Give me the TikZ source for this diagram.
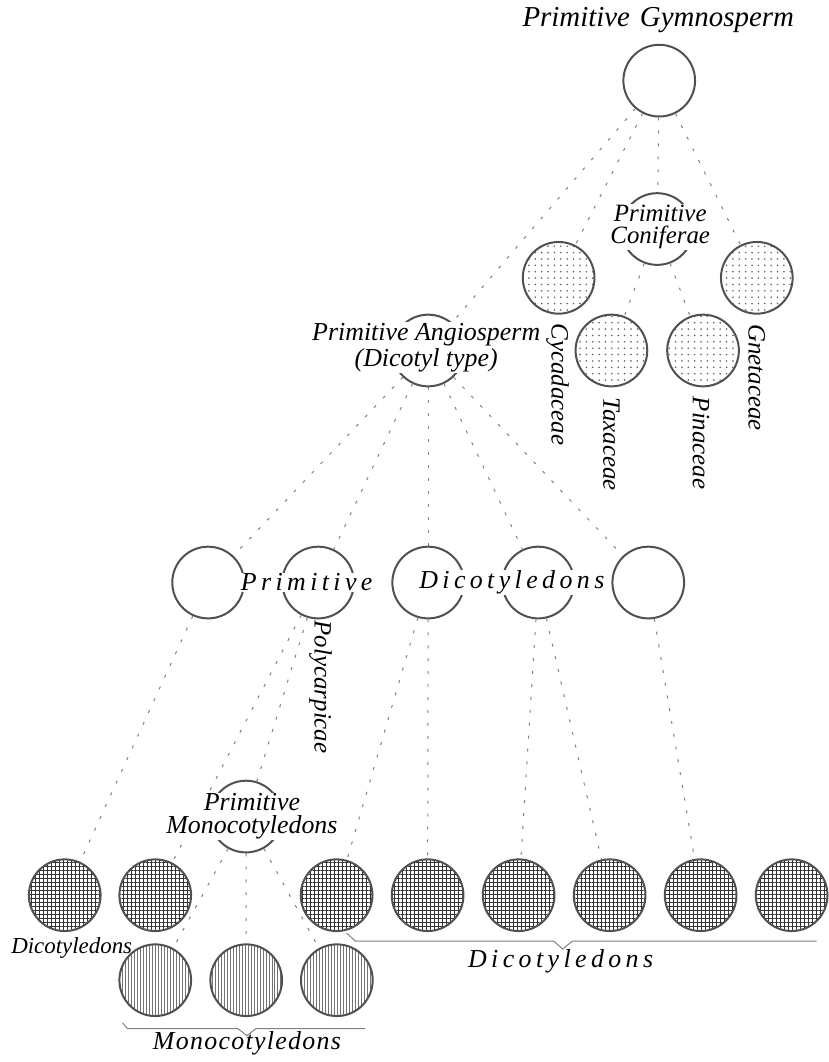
\documentclass[tikz,border=0pt]{standalone}
\usepackage{fontspec}
\setmainfont{Liberation Serif}
\newfontfamily\spacedfont[LetterSpace=17]{Liberation Serif}
\newfontfamily\looseserif[LetterSpace=5]{Liberation Serif}
\usepackage{tikz}
\usetikzlibrary{positioning,patterns.meta}
\definecolor{inkgray}{RGB}{80,80,80}
\definecolor{stipplegray}{RGB}{100,100,100}

\begin{document}
\begin{tikzpicture}[
    x=0.5pt, y=-0.5pt,
    taxon/.style={circle, draw=inkgray, line width=1pt, minimum size=36pt, inner sep=0pt},
    gymtaxon/.style={taxon, pattern={Dots[distance=3.2pt,radius=0.45pt]}, pattern color=stipplegray},
    dicottaxon/.style={taxon, pattern={Hatch[distance=2pt,line width=0.5pt]}, pattern color=black!80},
    monotaxon/.style={taxon, pattern={Lines[angle=90,distance=1.5pt,line width=0.35pt]}, pattern color=black!55},
    descent/.style={draw=black!50, line width=0.5pt, dash pattern=on 1.5pt off 5pt},
    bracket/.style={draw=black!50, line width=0.5pt},
    grouplabel/.style={font=\fontsize{13}{11.5}\selectfont\itshape, align=center, fill=white, inner sep=0.5pt},
    sidelabel/.style={font=\fontsize{12.5}{14}\selectfont\itshape, rotate=-90, inner sep=0pt},
    spacedlabel/.style={font=\fontsize{13}{14}\spacedfont\itshape, fill=white, inner sep=0.5pt}
]
    \fill[white] (0,0) rectangle (827,1062);

    \node[taxon] (gym) at (662,81) {};
    \node[taxon] (conif) at (660,230) {};
    \node[gymtaxon] (cycad) at (561,279) {};
    \node[gymtaxon] (gnet) at (760,279) {};
    \node[gymtaxon] (taxa) at (614,352) {};
    \node[gymtaxon, right=9pt of taxa] (pina) {};

    \node[taxon] (angio) at (430,352) {};

    \node[taxon] (pd1) at (209,585) {};
    \node[taxon, right=18.25pt of pd1] (pd2) {};
    \node[taxon, right=18.25pt of pd2] (pd3) {};
    \node[taxon, right=18.25pt of pd3] (pd4) {};
    \node[taxon, right=18.25pt of pd4] (pd5) {};

    \node[taxon] (pmono) at (247,820) {};

    \node[dicottaxon] (bd1) at (65,899) {};
    \node[dicottaxon, right=8.7pt of bd1] (bd2) {};
    \node[dicottaxon] (bd3) at (338,899) {};
    \node[dicottaxon, right=8.7pt of bd3] (bd4) {};
    \node[dicottaxon, right=8.7pt of bd4] (bd5) {};
    \node[dicottaxon, right=8.7pt of bd5] (bd6) {};
    \node[dicottaxon, right=8.7pt of bd6] (bd7) {};
    \node[dicottaxon, right=8.7pt of bd7] (bd8) {};

    \node[monotaxon, below=6pt of bd2] (mc1) {};
    \node[monotaxon, right=9pt of mc1] (mc2) {};
    \node[monotaxon, right=8.5pt of mc2] (mc3) {};

    \draw[descent] (gym) -- (angio);
    \draw[descent] (gym) -- (cycad);
    \draw[descent] (gym) -- (conif);
    \draw[descent] (gym) -- (gnet);
    \draw[descent] (conif) -- (taxa);
    \draw[descent] (conif) -- (pina);
    \draw[descent] (angio) -- (pd1);
    \draw[descent] (angio) -- (pd2);
    \draw[descent] (angio) -- (pd3);
    \draw[descent] (angio) -- (pd4);
    \draw[descent] (angio) -- (pd5);
    \draw[descent] (pd1) -- (bd1);
    \draw[descent] (pd2) -- (bd2);
    \draw[descent] (pd2) -- (pmono);
    \draw[descent] (pd3) -- (bd3);
    \draw[descent] (pd3) -- (bd4);
    \draw[descent] (pd4) -- (bd5);
    \draw[descent] (pd4) -- (bd6);
    \draw[descent] (pd5) -- (bd7);
    \draw[descent] (pmono) -- (mc1);
    \draw[descent] (pmono) -- (mc2);
    \draw[descent] (pmono) -- (mc3);

    \node[grouplabel, font=\fontsize{14.5}{16}\selectfont\itshape] (gymname) at (661,20) {Primitive\hspace{5pt}Gymnosperm};
    \node[grouplabel, font=\fontsize{12.5}{11}\selectfont\itshape] (conifname) at (663,228) {Primitive\\Coniferae};
    \node[grouplabel] (angioname) at (428,349) {Primitive Angiosperm\\(Dicotyl type)};
    \node[grouplabel] (pmononame) at (253,820) {Primitive\\Monocotyledons};
    \node[spacedlabel] (pdname1) at (308,585) {Primitive};
    \node[spacedlabel] (pdname2) at (514,585) {Dicotyledons};

    \node[sidelabel] (cycadname) at (560,386) {Cycadaceae};
    \node[sidelabel] (taxaname) at (614,446) {Taxaceae};
    \node[sidelabel] (pinaname) at (704,445) {Pinaceae};
    \node[sidelabel] (gnetname) at (760,379) {Gnetaceae};
    \node[sidelabel] (polyname) at (322,690) {Polycarpicae};

    \node[font=\fontsize{11.5}{13}\selectfont\itshape] (dicotleft) at (72,952) {Dicotyledons};

    \coordinate (dicotstart) at (348,937);
    \coordinate (dicottip) at (565,953);
    \coordinate (dicotend) at (820,945);
    \draw[bracket] (dicotstart) -- ++(9,8) -- ++(199,0) -- (dicottip) -- ++(10,-8) -- (dicotend);
    \node[font=\fontsize{13}{14}\spacedfont\itshape] (dicotgroup) at (563,965) {Dicotyledons};

    \coordinate (monostart) at (123,1027);
    \coordinate (monotip) at (248,1040);
    \coordinate (monoend) at (367,1033);
    \draw[bracket] (monostart) -- ++(5,6) -- ++(111,0) -- (monotip) -- ++(9,-7) -- (monoend);
    \node[font=\fontsize{13}{14}\looseserif\itshape] (monogroup) at (248,1048) {Monocotyledons};
\end{tikzpicture}
\end{document}
